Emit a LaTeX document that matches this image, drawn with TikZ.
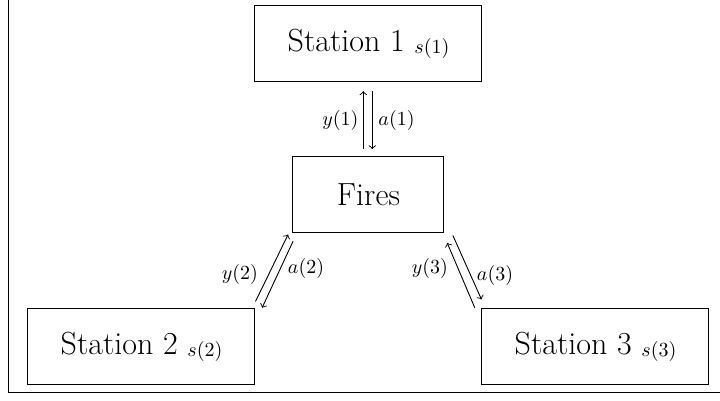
\documentclass[tikz,border=0pt]{standalone}
\usetikzlibrary{calc}
\begin{document}
\begin{tikzpicture}[x=0.5pt,y=-0.5pt,
  box/.style={draw,line width=0.5pt,minimum width=113.5pt,minimum height=38pt,inner sep=0pt,
    font=\fontsize{16}{19}\selectfont},
  lbl/.style={font=\fontsize{9.8}{11}\selectfont,inner sep=0pt},
  flow/.style={->,line width=0.45pt}]
\newcommand{\stsub}[1]{\hspace{0.3em}\raisebox{-0.9pt}{\fontsize{10.3}{12}\selectfont$s(#1)$}}
\useasboundingbox (0,0) rectangle (720,401);
% frame on the left and bottom
\draw[line width=0.5pt] (8.3,0) -- (8.3,392.7) -- (720,392.7);

% nodes
\node[box] (s1) at (368.5,44) {Station 1\stsub{1}};
\node[box,minimum width=75.5pt] (fires) at (368.5,195) {Fires};
\node[box] (s2) at (141.5,347) {Station 2\stsub{2}};
\node[box] (s3) at (595.5,347) {Station 3\stsub{3}};

% station 1 <-> fires
\draw[flow] ($(fires.north)+(-5.2,-7.3)$) -- ($(s1.south)+(-5.2,8.7)$);
\draw[flow] ($(s1.south)+(3.8,8.7)$) -- ($(fires.north)+(3.8,-7.3)$);
\node[lbl] (y1) at (340.3,120.5) {$y(1)$};
\node[lbl] (a1) at (396.5,120.5) {$a(1)$};

% station 2 <-> fires
\draw[flow] ($(s2.north east)+(0,-7)$) -- ($(fires.south west)+(-4.4,1)$);
\draw[flow] ($(fires.south west)+(0.6,7.7)$) -- ($(s2.north east)+(6.6,-0.7)$);
\node[lbl] (y2) at (240,275) {$y(2)$};
\node[lbl] (a2) at (306,268.3) {$a(2)$};

% station 3 <-> fires
\draw[flow] ($(s3.north west)+(-6.7,-0.7)$) -- ($(fires.south east)+(2.7,9.4)$);
\draw[flow] ($(fires.south east)+(8.4,2)$) -- ($(s3.north west)+(0,-9)$);
\node[lbl] (y3) at (430,268.3) {$y(3)$};
\node[lbl] (a3) at (495,276) {$a(3)$};
\end{tikzpicture}
\end{document}
